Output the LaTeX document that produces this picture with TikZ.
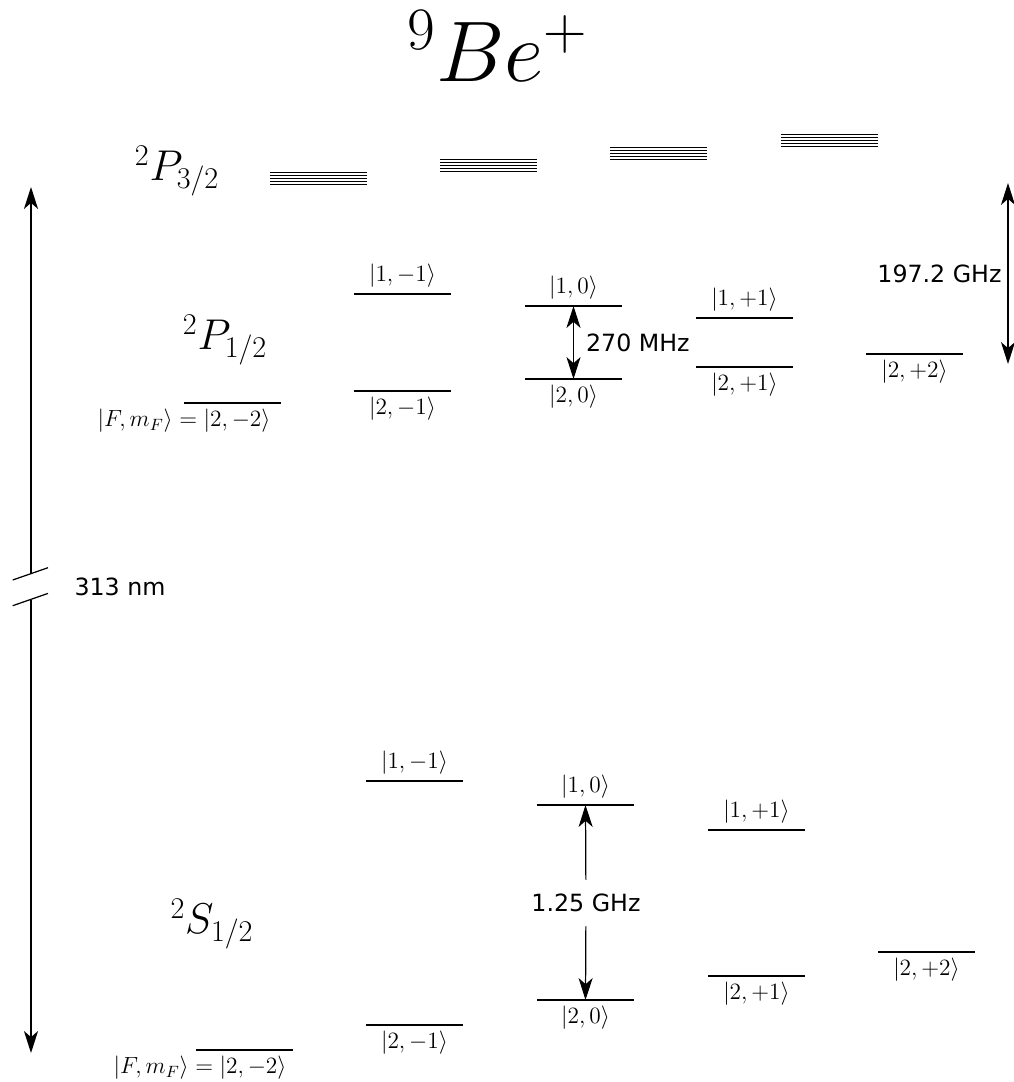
\RequirePackage{fix-cm}
\documentclass[tikz,border=0pt]{standalone}
\usepackage{fontspec}
\newfontfamily\freqfont{DejaVu Sans}
\usetikzlibrary{arrows.meta}

\begin{document}
\begin{tikzpicture}[
      x=0.02cm, y=-0.02cm,
      level/.style={minimum width=1.94cm, minimum height=0pt, inner sep=0pt,
      outer sep=0pt, append after command={(\tikzlastnode.west) edge[line
      width=1pt] (\tikzlastnode.east)}},
      ket/.style={font=\fontsize{13.3}{16}\selectfont},
      every label/.style={ket},
      term/.style={font=\fontsize{24.5}{29}\selectfont},
      freq/.style={font=\freqfont\fontsize{13.5}{16}\selectfont},
      manifold/.style={line width=0.5pt},
      line/.style={draw, line width=0.7pt,
      -{Stealth[length=12.5pt, width=8pt, inset=3.5pt]}},
      twoway/.style={line, {Stealth[length=12.5pt, width=8pt,
      inset=3.5pt]}-{Stealth[length=12.5pt, width=8pt, inset=3.5pt]}}
    ]
    \useasboundingbox (0,0) rectangle (1014,1082);

    \node [font=\fontsize{49}{52}\selectfont, inner sep=0pt] (ion) at (498,46)
    {${}^9Be^+$};

    % P3/2 manifold
    \node [term] (P32) at (177,171) {${}^2P_{3/2}$};
    \draw [manifold] (270,172) -- ++(97,0) (270,175) -- ++(97,0)
    (270,178) -- ++(97,0) (270,181) -- ++(97,0) (270,184) -- ++(97,0);
    \draw [manifold] (440,159) -- ++(97,0) (440,162) -- ++(97,0)
    (440,165) -- ++(97,0) (440,168) -- ++(97,0) (440,171) -- ++(97,0);
    \draw [manifold] (610,147) -- ++(97,0) (610,150) -- ++(97,0)
    (610,153) -- ++(97,0) (610,156) -- ++(97,0) (610,159) -- ++(97,0);
    \draw [manifold] (781,134) -- ++(97,0) (781,137) -- ++(97,0)
    (781,140) -- ++(97,0) (781,143) -- ++(97,0) (781,146) -- ++(97,0);

    % P1/2 levels
    \node [term] (P12) at (225,340) {${}^2P_{1/2}$};
    \node [level] (P22m) at (232.5,403) {};
    \node [ket, anchor=north] (P22mlbl) at (P22m.west)
    {$|F,m_F\rangle = |2,-2\rangle$};
    \node [level, label=below:{$|2,-1\rangle$}] (P21m) at (402.5,391) {};
    \node [level, label=below:{$|2,0\rangle$}] (P20) at (573.5,379) {};
    \node [level, label=below:{$|2,+1\rangle$}] (P21p) at (744.5,367) {};
    \node [level, label=below:{$|2,+2\rangle$}] (P22p) at (914.5,354) {};
    \node [level, label=above:{$|1,-1\rangle$}] (P11m) at (402.5,294) {};
    \node [level, label=above:{$|1,0\rangle$}] (P10) at (573.5,306) {};
    \node [level, label=above:{$|1,+1\rangle$}] (P11p) at (744.5,318) {};

    \path [twoway] (P10) -- (P20)
    node [freq, midway, right, xshift=3.5pt] (mhz) {270 MHz};

    \coordinate (fsTop) at (1008,183);
    \coordinate (fsBot) at (1008,364);
    \path [twoway] (fsTop) -- (fsBot)
    node [freq, midway, left] (fs) {197.2 GHz};

    % S1/2 levels
    \node [term] (S12) at (212,924) {${}^2S_{1/2}$};
    \node [level] (S22m) at (244.5,1050) {};
    \node [ket, anchor=north, xshift=0.08cm] (S22mlbl) at (S22m.west)
    {$|F,m_F\rangle = |2,-2\rangle$};
    \node [level, label=below:{$|2,-1\rangle$}] (S21m) at (414.5,1025) {};
    \node [level, label=below:{$|2,0\rangle$}] (S20) at (585.5,1000) {};
    \node [level, label=below:{$|2,+1\rangle$}] (S21p) at (756.5,976) {};
    \node [level, label=below:{$|2,+2\rangle$}] (S22p) at (926.5,952) {};
    \node [level, label=above:{$|1,-1\rangle$}] (S11m) at (414.5,781) {};
    \node [level, label=above:{$|1,0\rangle$}] (S10) at (585.5,805) {};
    \node [level, label=above:{$|1,+1\rangle$}] (S11p) at (756.5,830) {};

    \node [freq, inner ysep=8pt] (hfs) at (586,903) {1.25 GHz};
    \path [line] (hfs) -- (S10);
    \path [line] (hfs) -- (S20);

    % optical transition, broken axis
    \coordinate (uvTop) at (31,187);
    \coordinate (uvBot) at (31,1053);
    \coordinate (brkUp) at (31,573.5);
    \coordinate (brkDn) at (31,599.5);
    \path [line] (brkUp) -- (uvTop);
    \path [line] (brkDn) -- (uvBot);
    \draw [line width=0.7pt] (12.7,580) -- (48,567.7);
    \draw [line width=0.7pt] (12.7,605.7) -- (48,593.4);
    \node [freq] (nm) at (120,587) {313 nm};
  \end{tikzpicture}
\end{document}
